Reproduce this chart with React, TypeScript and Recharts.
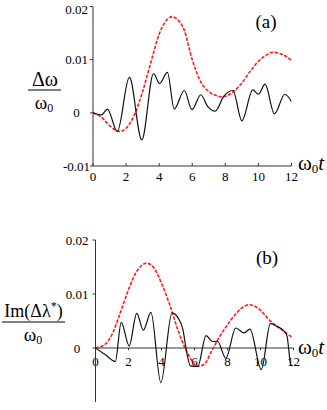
import React from 'react';
import { LineChart, Line, XAxis, YAxis, ReferenceLine } from 'recharts';

const FONT = "'Liberation Serif', 'Times New Roman', serif";

// shared ticks
const xTicks = [0, 2, 4, 6, 8, 10, 12];
const yTicks = [-0.01, 0, 0.01, 0.02];
const yTickLabels = ['-0.01', '0', '0.01', '0.02'];

// panel (a): black solid
const blackATimes = [0, 0.5, 0.87, 1.47, 2.2, 2.95, 3.66, 4.02, 4.5, 4.91, 5.52, 5.98, 6.52, 6.93, 7.39, 7.9, 8.46, 9.0, 9.66, 10.0, 10.4, 10.97, 11.6, 12.0];
const blackAValues = [0, -0.0004, 0.0007, -0.0035, 0.0067, -0.0051, 0.0074, 0.0055, 0.0076, 0.0007, 0.0042, 0.0006, 0.0034, 0.0012, 0.0003, 0.0031, 0.0042, -0.0015, 0.0043, 0.0035, 0.0054, -0.0002, 0.0035, 0.0021];
// panel (a): red dashed
const redATimes = [0, 0.5, 1.0, 1.6, 2.0, 2.5, 3.0, 3.5, 4.0, 4.5, 4.8, 5.0, 5.5, 6.0, 6.5, 7.0, 7.5, 7.8, 8.0, 8.5, 9.0, 9.5, 10.0, 10.5, 10.85, 11.5, 12.0];
const redAValues = [0, -0.0008, -0.0024, -0.0035, -0.0029, -0.0004, 0.004, 0.0095, 0.0148, 0.0176, 0.0181, 0.0178, 0.0157, 0.01, 0.0059, 0.004, 0.0032, 0.003, 0.0031, 0.004, 0.0056, 0.0078, 0.0097, 0.0109, 0.0114, 0.0109, 0.0099];

// panel (b): black solid
const blackBTimes = [0, 0.6, 1.2, 1.56, 2.04, 2.5, 2.9, 3.36, 3.96, 4.64, 5.04, 5.3, 5.5, 5.75, 6.2, 6.7, 7.1, 7.4, 7.9, 8.5, 9.0, 9.36, 10.05, 10.6, 11.0, 11.4, 11.6, 11.85, 11.95];
const blackBValues = [0, -0.00125, -0.0025, 0.00475, 0.0004, 0.0064, 0.0033, 0.0066, -0.0064, 0.0065, 0.0054, 0.0034, -0.0003, -0.0033, -0.0034, 0.0023, 0.0012, 0.0012, -0.0019, 0.0037, 0.0028, 0.0035, -0.004, 0.0045, 0.004, 0.0032, 0.0023, -0.0032, -0.0033];
// panel (b): red dashed
const redBTimes = [0, 0.5, 1.0, 1.5, 2.0, 2.5, 3.1, 3.5, 4.0, 4.5, 5.0, 5.5, 6.0, 6.15, 6.6, 7.0, 7.5, 8.0, 8.5, 9.0, 9.3, 9.6, 10.0, 10.5, 11.0, 11.5, 11.9];
const redBValues = [0, 0.0005, 0.0025, 0.0065, 0.0108, 0.0142, 0.0157, 0.015, 0.012, 0.008, 0.0033, -0.0005, -0.003, -0.0034, -0.003, -0.0008, 0.002, 0.0043, 0.0063, 0.0077, 0.008, 0.0078, 0.007, 0.0053, 0.004, 0.0029, 0.002];

const toRows = (ts: number[], vs: number[]) => ts.map((t, i) => ({ t, v: vs[i] }));
const blackA = toRows(blackATimes, blackAValues);
const redA = toRows(redATimes, redAValues);
const blackB = toRows(blackBTimes, blackBValues);
const redB = toRows(redBTimes, redBValues);

const AXIS = '#333';
const RED = '#ff1a1a';

const makeYTick = (cx: number) => (props: any) => {
  const { y, payload } = props;
  const idx = yTicks.indexOf(payload.value);
  return (
    <text x={cx} y={y} textAnchor="middle" dominantBaseline="central" fontSize={13} fontFamily={FONT} fill="#000">
      {yTickLabels[idx]}
    </text>
  );
};

const XTickA = (props: any) => {
  const { x, y, payload } = props;
  return (
    <g>
      <line x1={x} x2={x} y1={y} y2={y - 3} stroke={AXIS} />
      <text x={x} y={y + 10} textAnchor="middle" dominantBaseline="central" fontSize={13} fontFamily={FONT} fill="#000">
        {String(payload.value)}
      </text>
    </g>
  );
};

const XLabelB = (props: any) => {
  const { viewBox, value } = props;
  const x = viewBox.x;
  const y = Math.min(viewBox.y, viewBox.y + viewBox.height);
  return (
    <text x={x} y={y + 13} textAnchor="middle" dominantBaseline="central" fontSize={13} fontFamily={FONT} fill="#000">
      {value}
    </text>
  );
};

export default function App() {
  return (
    <div style={{ position: 'absolute', left: 0, top: 0, width: 327, height: 410, background: '#fff', fontFamily: FONT }}>
      <div style={{ position: 'absolute', left: 0, top: 0 }}>
        <LineChart width={327} height={200} margin={{ top: 6.5, right: 35.5, left: 0, bottom: 14 }}>
          <XAxis
            type="number"
            dataKey="t"
            domain={[0, 12]}
            ticks={xTicks}
            height={20}
            tickSize={0}
            tickMargin={0}
            tickLine={false}
            axisLine={{ stroke: AXIS }}
            tick={<XTickA />}
            allowDataOverflow
          />
          <YAxis
            type="number"
            dataKey="v"
            domain={[-0.01, 0.02]}
            ticks={yTicks}
            width={93}
            tickSize={3}
            tickMargin={2}
            axisLine={{ stroke: AXIS }}
            tickLine={{ stroke: AXIS }}
            tick={makeYTick(76.5)}
            allowDataOverflow
          />
          <Line data={redA} dataKey="v" type="monotone" stroke={RED} strokeWidth={1.6} strokeDasharray="3.5 1.5" dot={false} isAnimationActive={false} />
          <Line data={blackA} dataKey="v" type="monotone" stroke="#111" strokeWidth={1.2} dot={false} isAnimationActive={false} />
        </LineChart>
      </div>
      <div style={{ position: 'absolute', left: 0, top: 200 }}>
        <LineChart width={327} height={210} margin={{ top: 40, right: 33.5, left: 0, bottom: 8 }}>
          <XAxis hide type="number" dataKey="t" domain={[0, 12]} ticks={xTicks} allowDataOverflow />
          <YAxis
            type="number"
            dataKey="v"
            domain={[-0.01, 0.02]}
            ticks={yTicks}
            width={95.5}
            tickSize={3}
            tickMargin={2}
            axisLine={{ stroke: AXIS }}
            tickLine={{ stroke: AXIS }}
            tick={makeYTick(77)}
            allowDataOverflow
          />
          <ReferenceLine y={0} stroke={AXIS} ifOverflow="extendDomain" />
          {xTicks.map((t) => (
            <ReferenceLine
              key={t}
              segment={[{ x: t, y: 0 }, { x: t, y: -0.0004 }]}
              stroke={AXIS}
              label={<XLabelB value={String(t)} />}
            />
          ))}
          <Line data={redB} dataKey="v" type="monotone" stroke={RED} strokeWidth={1.6} strokeDasharray="3.5 1.5" dot={false} isAnimationActive={false} />
          <Line data={blackB} dataKey="v" type="monotone" stroke="#111" strokeWidth={1.2} dot={false} isAnimationActive={false} />
        </LineChart>
      </div>
      <svg width={327} height={410} style={{ position: 'absolute', left: 0, top: 0, pointerEvents: 'none' }} fontFamily={FONT}>
        {/* panel (a) labels */}
        <text x={45} y={86} textAnchor="middle" fontSize={20} fill="#000">Δω</text>
        <line x1={28} x2={61} y1={90} y2={90} stroke="#000" strokeWidth={1.2} />
        <text x={44} y={109} textAnchor="middle" fontSize={19} fill="#000">
          ω<tspan fontSize={12} dy={3}>0</tspan>
        </text>
        <text x={266} y={28} textAnchor="middle" fontSize={19} fill="#000">(a)</text>
        <text x={298} y={170} fontSize={21} fill="#000">
          ω<tspan fontSize={13} dy={3}>0</tspan><tspan dy={-3} fontStyle="italic">t</tspan>
        </text>
        {/* panel (b) labels */}
        <text x={33.5} y={317} textAnchor="middle" fontSize={18} fill="#000">
          Im(Δλ<tspan fontSize={12} dy={-7}>*</tspan><tspan dy={7}>)</tspan>
        </text>
        <line x1={2} x2={65} y1={322} y2={322} stroke="#000" strokeWidth={1.2} />
        <text x={33} y={341} textAnchor="middle" fontSize={19} fill="#000">
          ω<tspan fontSize={12} dy={3}>0</tspan>
        </text>
        <text x={267} y={264} textAnchor="middle" fontSize={19} fill="#000">(b)</text>
        <text x={298} y={354} fontSize={21} fill="#000">
          ω<tspan fontSize={13} dy={3}>0</tspan><tspan dy={-3} fontStyle="italic">t</tspan>
        </text>
      </svg>
    </div>
  );
}
